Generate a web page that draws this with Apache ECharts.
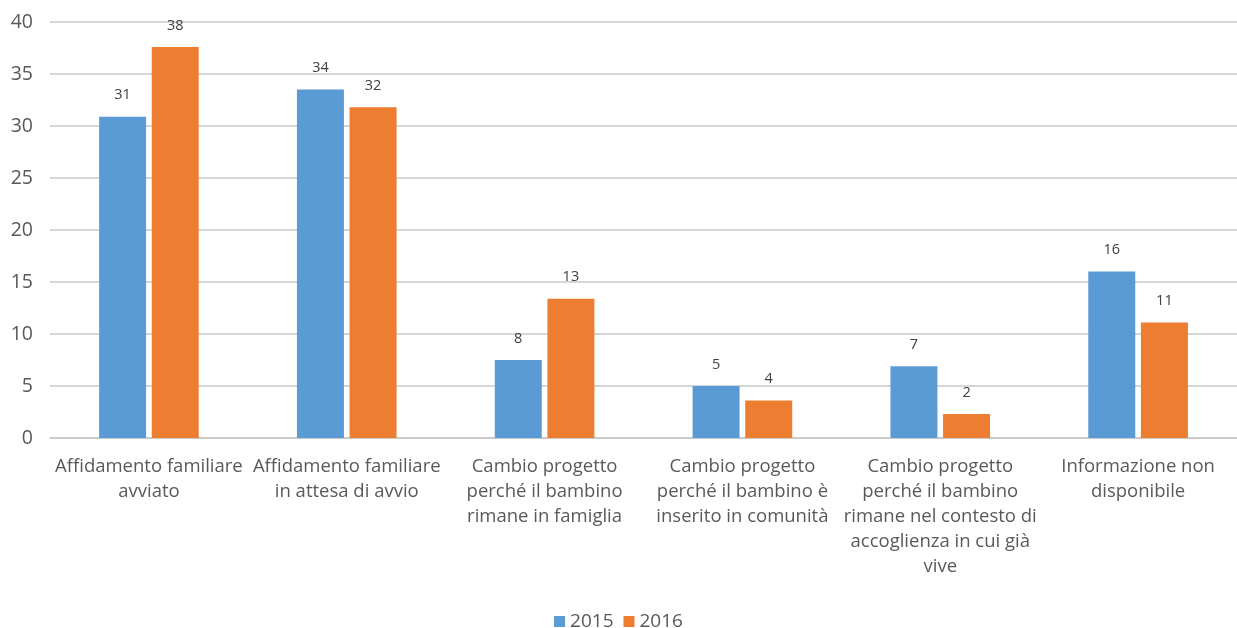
<!DOCTYPE html>
<html>
<head>
<meta charset="utf-8">
<script src="https://cdn.jsdelivr.net/npm/echarts@6/dist/echarts.min.js"></script>
<style>
  html, body { margin: 0; padding: 0; background: #fff; }
  #chart { width: 1237px; height: 628px; }
</style>
</head>
<body>
<div id="chart"></div>
<script>
// categorie (asse x) con gli a capo come nell'originale
const categories = [
  'Affidamento familiare\navviato',
  'Affidamento familiare\nin attesa di avvio',
  'Cambio progetto\nperché il bambino\nrimane in famiglia',
  'Cambio progetto\nperché il bambino è\ninserito in comunità',
  'Cambio progetto\nperché il bambino\nrimane nel contesto di\naccoglienza in cui già\nvive',
  'Informazione non\ndisponibile'
];
const values2015 = [30.9, 33.5, 7.5, 5.0, 6.9, 16.0];
const values2016 = [37.6, 31.8, 13.4, 3.6, 2.3, 11.1];
const seriesNames = ['2015', '2016'];

const font = '"Open Sans", Lato, sans-serif';

const chart = echarts.init(document.getElementById('chart'));

const barLabel = {
  show: true,
  position: 'top',
  distance: 14,
  color: '#404040',
  fontSize: 14.5,
  fontFamily: font,
  formatter: (p) => Math.round(p.value)
};

chart.setOption({
  animation: false,
  textStyle: { fontFamily: font },
  grid: { left: 50, right: 0, top: 22, bottom: 190, containLabel: false },
  legend: {
    data: seriesNames,
    top: 607,
    left: 'center',
    itemWidth: 11,
    itemHeight: 11,
    itemGap: 10,
    itemTextGap: 5,
    icon: 'rect',
    textStyle: { color: '#595959', fontSize: 19, fontFamily: font }
  },
  xAxis: {
    type: 'category',
    data: categories,
    axisLine: { show: true, lineStyle: { color: '#c8c8c8', width: 1.5 } },
    axisTick: { show: false },
    axisLabel: {
      interval: 0,
      margin: 16,
      color: '#595959',
      fontSize: 18.5,
      lineHeight: 25,
      fontFamily: font
    }
  },
  yAxis: {
    type: 'value',
    min: 0,
    max: 40,
    interval: 5,
    axisLine: { show: false },
    axisTick: { show: false },
    axisLabel: { color: '#595959', fontSize: 19.5, margin: 17, fontFamily: font },
    splitLine: { lineStyle: { color: '#c8c8c8', width: 1.5 } }
  },
  series: [
    {
      name: seriesNames[0],
      type: 'bar',
      data: values2015,
      barWidth: 47,
      barGap: '12%',
      itemStyle: { color: '#5B9BD5' },
      label: barLabel
    },
    {
      name: seriesNames[1],
      type: 'bar',
      data: values2016,
      barWidth: 47,
      barGap: '12%',
      itemStyle: { color: '#ED7D31' },
      label: barLabel
    }
  ]
});
</script>
</body>
</html>
